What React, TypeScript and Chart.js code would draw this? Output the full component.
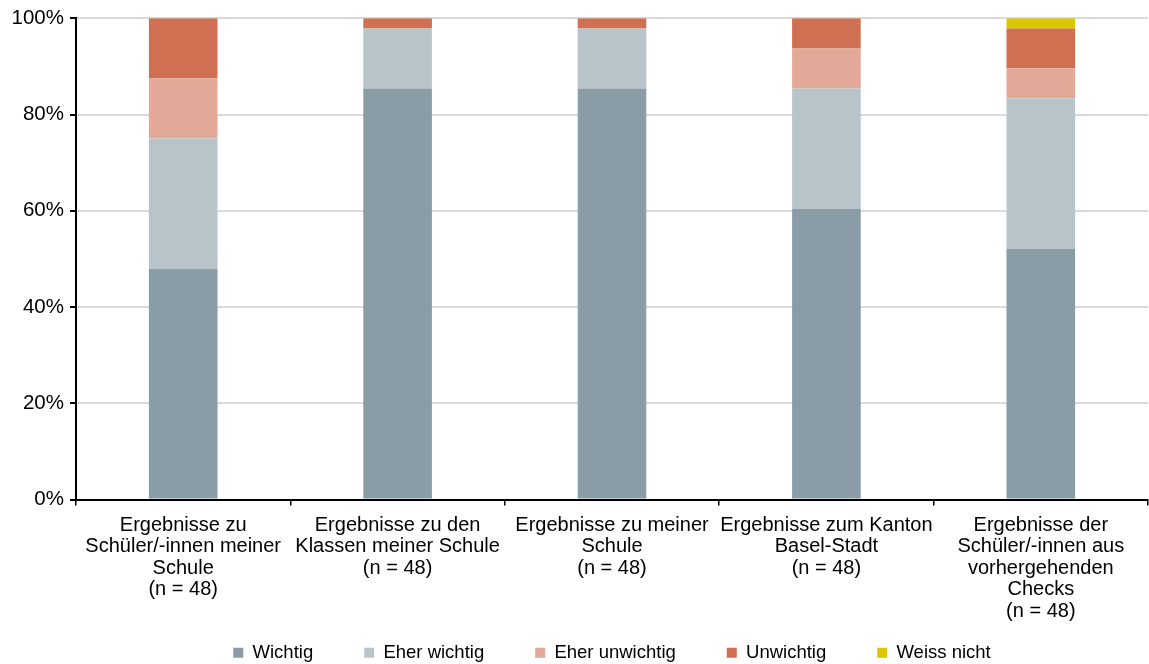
import React, { useEffect, useRef } from "react";
import { Chart, registerables } from "chart.js";

Chart.register(...registerables);

const categories: string[][] = [
  ["Ergebnisse zu", "Schüler/-innen meiner", "Schule", "(n = 48)"],
  ["Ergebnisse zu den", "Klassen meiner Schule", "(n = 48)"],
  ["Ergebnisse zu meiner", "Schule", "(n = 48)"],
  ["Ergebnisse zum Kanton", "Basel-Stadt", "(n = 48)"],
  ["Ergebnisse der", "Schüler/-innen aus", "vorhergehenden", "Checks", "(n = 48)"],
];

const wichtig = [47.9, 85.4, 85.4, 60.4, 52.1];
const eherWichtig = [27.1, 12.5, 12.5, 25.0, 31.3];
const eherUnwichtig = [12.5, 0, 0, 8.3, 6.2];
const unwichtig = [12.5, 2.1, 2.1, 6.3, 8.3];
const weissNicht = [0, 0, 0, 0, 2.1];

const yTicks = [0, 20, 40, 60, 80, 100];

const legendShift = {
  id: "legendShift",
  afterLayout(chart: any) {
    const l = chart.legend;
    if (!l) return;
    l.left = chart.chartArea.left;
    const shift = 672 - l.bottom;
    l.top += shift;
    l.bottom += shift;
  },
};

export default function App() {
  const ref = useRef<HTMLCanvasElement>(null);
  useEffect(() => {
    document.body.style.margin = "0";
    const family = "'Liberation Sans', Arial, sans-serif";
    const chart = new Chart(ref.current!, {
      type: "bar",
      plugins: [legendShift],
      data: {
        labels: categories,
        datasets: [
          { label: "Wichtig", data: wichtig, backgroundColor: "#8A9CA6" },
          { label: "Eher wichtig", data: eherWichtig, backgroundColor: "#B8C4CA" },
          { label: "Eher unwichtig", data: eherUnwichtig, backgroundColor: "#E2A999" },
          { label: "Unwichtig", data: unwichtig, backgroundColor: "#CF7052" },
          { label: "Weiss nicht", data: weissNicht, backgroundColor: "#D9C800" },
        ],
      },
      options: {
        animation: false,
        responsive: false,
        maintainAspectRatio: false,
        datasets: { bar: { barPercentage: 0.32, categoryPercentage: 1 } },
        layout: { padding: { top: 10, right: 1, left: 0, bottom: -40 } },
        plugins: {
          tooltip: { enabled: false },
          legend: {
            position: "bottom",
            labels: {
              font: { family, size: 18.5 },
              color: "#000",
              boxWidth: 10,
              boxHeight: 10,
              padding: 51,
            },
          },
        },
        scales: {
          x: {
            stacked: true,
            afterFit: (axis: any) => {
              axis.height = 125;
            },
            grid: {
              display: true,
              drawOnChartArea: false,
              offset: true,
              tickLength: 6,
              tickColor: "#000",
              color: "#000",
              lineWidth: 1.5,
            },
            border: { color: "#000", width: 2 },
            ticks: {
              font: { family, size: 20, lineHeight: 1.075 },
              color: "#000",
              maxRotation: 0,
              autoSkip: false,
              padding: 9,
            },
          },
          y: {
            stacked: true,
            min: 0,
            max: 100,
            afterFit: (axis: any) => {
              axis.width = 76;
            },
            afterBuildTicks: (axis: any) => {
              axis.ticks = yTicks.map((v) => ({ value: v }));
            },
            grid: { color: "#d9d9d9", lineWidth: 2, tickLength: 6, tickColor: "#000" },
            border: { color: "#000", width: 2 },
            ticks: {
              font: { family, size: 20.5 },
              color: "#000",
              padding: 6,
              callback: (v: any) => v + "%",
            },
          },
        },
      },
    });
    return () => chart.destroy();
  }, []);
  return (
    <div style={{ width: 1149, height: 664, overflow: "hidden" }}>
      <canvas ref={ref} width={1149} height={664} style={{ display: "block" }} />
    </div>
  );
}
